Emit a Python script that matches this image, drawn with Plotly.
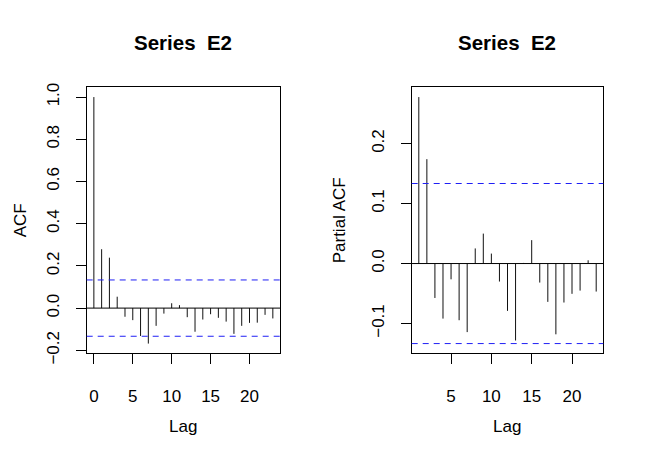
import plotly.graph_objects as go

# ---- data ----
acf_lags = list(range(0, 24))
acf_vals = [1.0, 0.279, 0.239, 0.054, -0.041, -0.057, -0.132, -0.168, -0.084, -0.026,
            0.023, 0.014, -0.043, -0.112, -0.054, -0.029, -0.046, -0.064, -0.122, -0.084,
            -0.070, -0.069, -0.032, -0.049]
pacf_lags = list(range(1, 24))
pacf_vals = [0.2775, 0.174, -0.0574, -0.0918, -0.0263, -0.0945, -0.1143, 0.0252, 0.0499,
             0.0166, -0.030, -0.0789, -0.1283, 0.001, 0.039, -0.0317, -0.0639, -0.118,
             -0.065, -0.0505, -0.0451, 0.0054, -0.0467]
ci = 0.1334
title_text = "Series\u00a0 E2"
acf_xticks = [0, 5, 10, 15, 20]
acf_yticks = [-0.2, 0.0, 0.2, 0.4, 0.6, 0.8, 1.0]
pacf_xticks = [5, 10, 15, 20]
pacf_yticks = [-0.1, 0.0, 0.1, 0.2]

W, H = 649, 469
OFF = 8  # page body margin
FONT = "Liberation Sans, Arial, Helvetica, sans-serif"


def stems(lags, vals):
    xs, ys = [], []
    for l, v in zip(lags, vals):
        xs += [l, l, None]
        ys += [0, v, None]
    return xs, ys


fig = go.Figure()
ax, ay = stems(acf_lags, acf_vals)
fig.add_trace(go.Scatter(x=ax, y=ay, mode="lines", line=dict(color="#111111", width=1),
                         xaxis="x", yaxis="y", showlegend=False, hoverinfo="skip"))
px_, py_ = stems(pacf_lags, pacf_vals)
fig.add_trace(go.Scatter(x=px_, y=py_, mode="lines", line=dict(color="#111111", width=1),
                         xaxis="x2", yaxis="y2", showlegend=False, hoverinfo="skip"))


def px2x(p):
    return (p - OFF) / W


def px2y(p):
    return 1 - (p - OFF) / H


top, bot = 85.7, 360.7
d1 = [px2x(86.7), px2x(280.0)]
d2 = [px2x(411.7), px2x(603.3)]
dy = [px2y(bot), px2y(top)]

acf_min = min(min(acf_vals), -ci)
acf_max = max(max(acf_vals), ci)
r = acf_max - acf_min
acf_yr = [acf_min - 0.04 * r, acf_max + 0.04 * r]
xr = acf_lags[-1] - acf_lags[0]
acf_xr = [acf_lags[0] - 0.04 * xr, acf_lags[-1] + 0.04 * xr]

p_min = min(min(pacf_vals), -ci)
p_max = max(max(pacf_vals), ci)
r2 = p_max - p_min
pacf_yr = [p_min - 0.04 * r2, p_max + 0.04 * r2]
xr2 = pacf_lags[-1] - pacf_lags[0]
pacf_xr = [pacf_lags[0] - 0.04 * xr2, pacf_lags[-1] + 0.04 * xr2]

common = dict(showline=True, linecolor="black", linewidth=1, mirror=True, ticks="outside",
              ticklen=10, tickcolor="black", tickwidth=1, showgrid=False, zeroline=False,
              tickfont=dict(family=FONT, size=17, color="black"))

fig.update_layout(
    width=W, height=H, margin=dict(l=0, r=0, t=0, b=0),
    paper_bgcolor="white", plot_bgcolor="white", showlegend=False,
    xaxis=dict(domain=d1, range=acf_xr, tickvals=acf_xticks, anchor="y",
               ticklabelstandoff=17, **common),
    yaxis=dict(domain=dy, range=acf_yr, tickvals=acf_yticks, anchor="x",
               tickformat=".1f", tickangle=-90, ticklabelstandoff=10, **common),
    xaxis2=dict(domain=d2, range=pacf_xr, tickvals=pacf_xticks, anchor="y2",
                ticklabelstandoff=17, **common),
    yaxis2=dict(domain=dy, range=pacf_yr, tickvals=pacf_yticks, anchor="x2",
                tickformat=".1f", tickangle=-90, ticklabelstandoff=10, **common),
)

shapes = []
for xa, ya in (("x", "y"), ("x2", "y2")):
    shapes.append(dict(type="line", xref=xa + " domain", yref=ya, x0=0, x1=1, y0=0, y1=0,
                       line=dict(color="black", width=1)))
    for c in (ci, -ci):
        shapes.append(dict(type="line", xref=xa + " domain", yref=ya, x0=0, x1=1, y0=c, y1=c,
                           line=dict(color="#1f1ff5", width=1, dash="6px,5px")))
fig.update_layout(shapes=shapes)

ann = []
for cx in ((d1[0] + d1[1]) / 2, (d2[0] + d2[1]) / 2):
    ann.append(dict(text="<b>" + title_text + "</b>", x=cx, y=px2y(39), xref="paper", yref="paper",
                    showarrow=False, xanchor="center", yanchor="middle",
                    font=dict(family=FONT, size=20.5, color="black")))
    ann.append(dict(text="Lag", x=cx, y=px2y(436), xref="paper", yref="paper",
                    showarrow=False, xanchor="center", yanchor="middle",
                    font=dict(family=FONT, size=17, color="black")))
cy = (dy[0] + dy[1]) / 2
ann.append(dict(text="ACF", x=px2x(20), y=cy, xref="paper", yref="paper", textangle=-90,
                showarrow=False, xanchor="center", yanchor="middle",
                font=dict(family=FONT, size=17, color="black")))
ann.append(dict(text="Partial ACF", x=px2x(339), y=cy, xref="paper", yref="paper", textangle=-90,
                showarrow=False, xanchor="center", yanchor="middle",
                font=dict(family=FONT, size=17, color="black")))
fig.update_layout(annotations=ann)

fig.write_html("out.html")
